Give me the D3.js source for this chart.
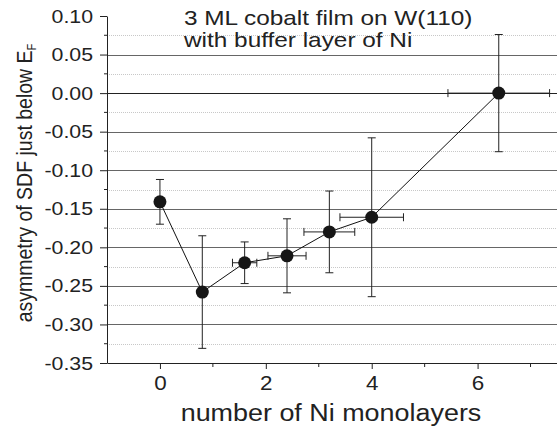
<!DOCTYPE html>
<html><head><meta charset="utf-8">
<script src="https://cdn.jsdelivr.net/npm/d3@7"></script>
<style>
body{margin:0;background:#fff;}
svg{display:block;font-family:"Liberation Sans",Arial,sans-serif;}
</style></head><body>
<svg id="c" width="557" height="431"></svg>
<script>
// data
const layers = [0, 0.8, 1.6, 2.4, 3.2, 4.0, 6.4];
const asym   = [-0.141, -0.258, -0.220, -0.211, -0.180, -0.161, 0.000];
const yErr   = [0.029, 0.073, 0.027, 0.048, 0.053, 0.103, 0.076];
const xErr   = [0, 0.05, 0.23, 0.36, 0.48, 0.60, 0.96];
const xTicks = [0, 2, 4, 6];
const yTicks = [-0.35, -0.30, -0.25, -0.20, -0.15, -0.10, -0.05, 0.00, 0.05, 0.10];
const yMinor = [-0.325, -0.275, -0.225, -0.175, -0.125, -0.075, -0.025, 0.025, 0.075];
const xMinor = [1, 3, 5, 7];
const title1 = "3 ML cobalt film on W(110)";
const title2 = "with buffer layer of Ni";

const svg = d3.select("#c");
const L = 107, R = 557, T = 16, B = 363;
const x = d3.scaleLinear().domain([-1, 7.5]).range([L, R]);
const y = d3.scaleLinear().domain([-0.35, 0.10]).range([B, T]);
const SX = 1.16; // horizontal stretch of the original figure's lettering

function stretch(sel, k) {
  sel.each(function() {
    const w = this.getComputedTextLength();
    this.setAttribute("textLength", (w * k).toFixed(2));
    this.setAttribute("lengthAdjust", "spacingAndGlyphs");
  });
}

// grid
svg.append("g").selectAll("line").data(yMinor).join("line")
  .attr("x1", L).attr("x2", R).attr("y1", d => Math.round(y(d)) + 0.5).attr("y2", d => Math.round(y(d)) + 0.5)
  .attr("stroke", "#c8c8c8").attr("stroke-dasharray", "1,1");
svg.append("g").selectAll("line").data(yTicks.filter(d => d > -0.34 && d < 0.09)).join("line")
  .attr("x1", L).attr("x2", R).attr("y1", d => Math.round(y(d)) + 0.5).attr("y2", d => Math.round(y(d)) + 0.5)
  .attr("stroke", d => Math.abs(d) < 1e-9 ? "#222" : "#666").attr("stroke-width", 1);

// axes
const yAxis = svg.append("g").attr("transform", `translate(${L},0)`)
  .call(d3.axisLeft(y).tickValues(yTicks).tickFormat(d3.format(".2f")).tickSizeInner(7).tickSizeOuter(0).tickPadding(7));
yAxis.selectAll("text").style("font-size", "19px").attr("fill", "#222").text(d => d3.format(".2f")(d).replace("−", "-"));
stretch(yAxis.selectAll("text"), 1.12);
yAxis.selectAll(".minor").data(yMinor).join("line").attr("class", "minor")
  .attr("x1", -3).attr("x2", 0).attr("y1", d => y(d)).attr("y2", d => y(d)).attr("stroke", "#222");

const xAxis = svg.append("g").attr("transform", `translate(0,${B})`)
  .call(d3.axisBottom(x).tickValues(xTicks).tickFormat(d3.format("d")).tickSizeInner(6).tickSizeOuter(0).tickPadding(7));
xAxis.selectAll("text").style("font-size", "20px").attr("fill", "#222");
stretch(xAxis.selectAll("text"), 1.12);
xAxis.selectAll(".minor").data(xMinor).join("line").attr("class", "minor")
  .attr("x1", d => x(d)).attr("x2", d => x(d)).attr("y1", 0).attr("y2", 4).attr("stroke", "#222");
svg.selectAll(".domain").attr("stroke", "#222");
svg.selectAll(".tick line").attr("stroke", "#222");

const pts = layers.map((v, i) => ({x: v, y: asym[i], ey: yErr[i], ex: xErr[i]}));

// connecting line
svg.append("path").datum(pts)
  .attr("d", d3.line().x(d => x(d.x)).y(d => y(d.y)))
  .attr("fill", "none").attr("stroke", "#111").attr("stroke-width", 1);

// error bars
const eb = svg.append("g").attr("stroke", "#222").attr("stroke-width", 1);
pts.forEach(d => {
  const cx = x(d.x), cy = y(d.y);
  eb.append("line").attr("x1", cx).attr("x2", cx).attr("y1", y(d.y - d.ey)).attr("y2", y(d.y + d.ey));
  [d.y - d.ey, d.y + d.ey].forEach(v => eb.append("line").attr("x1", cx - 4).attr("x2", cx + 4).attr("y1", y(v)).attr("y2", y(v)));
  if (d.ex > 0) {
    eb.append("line").attr("y1", cy).attr("y2", cy).attr("x1", x(d.x - d.ex)).attr("x2", x(d.x + d.ex));
    [d.x - d.ex, d.x + d.ex].forEach(v => eb.append("line").attr("y1", cy - 4).attr("y2", cy + 4).attr("x1", x(v)).attr("x2", x(v)));
  }
});

// points
svg.append("g").selectAll("circle").data(pts).join("circle")
  .attr("cx", d => x(d.x)).attr("cy", d => y(d.y)).attr("r", 6.5).attr("fill", "#161616");

// annotation
const t1 = svg.append("text").attr("x", 184).attr("y", 25).style("font-size", "21px").attr("fill", "#222").text(title1);
const t2 = svg.append("text").attr("x", 184).attr("y", 47).style("font-size", "21px").attr("fill", "#222").text(title2);
stretch(t1, SX); stretch(t2, SX);

// axis labels
const xl = svg.append("text").attr("x", 331).attr("y", 421).attr("text-anchor", "middle").style("font-size", "23px").attr("fill", "#222")
  .text("number of Ni monolayers");
stretch(xl, 1.17);
const yl = svg.append("text").attr("transform", "translate(32,183) rotate(-90) scale(1,1.12)").attr("text-anchor", "middle")
  .style("font-size", "19.5px").attr("fill", "#222");
yl.append("tspan").text("asymmetry of SDF just below E");
yl.append("tspan").attr("dy", 4).style("font-size", "11px").text("F");
</script>
</body></html>
